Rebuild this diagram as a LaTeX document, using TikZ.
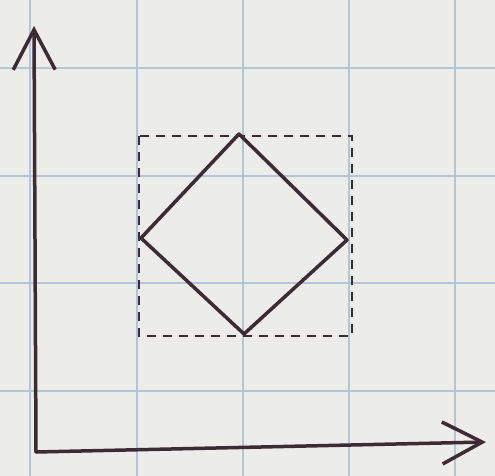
\documentclass[tikz,border=0pt]{standalone}
\usetikzlibrary{arrows.meta}
\definecolor{paper}{RGB}{236,236,232}
\definecolor{gridblue}{RGB}{178,198,218}
\definecolor{ink}{RGB}{62,42,55}
\begin{document}
\begin{tikzpicture}[x=1pt,y=-1pt,
  inkline/.style={draw=ink,line width=3.5pt,line cap=round,line join=round},
  dashline/.style={draw=ink,line width=1.8pt,dash pattern=on 9pt off 7pt},
  axisarrow/.style={inkline,-{Straight Barb[length=40pt,width=42pt,line width=3.5pt]}}]
\useasboundingbox (0,0) rectangle (495,476);
\fill[paper] (0,0) rectangle (495,476);
\foreach \gx in {30,137,243,349,455}
  \draw[gridblue,line width=2.5pt] (\gx,0) -- (\gx,476);
\foreach \gy in {68,176,283,391}
  \draw[gridblue,line width=2.5pt] (0,\gy) -- (495,\gy);
% axes
\coordinate (o) at (36,452);
\coordinate (ytip) at (34,26);
\coordinate (xtip) at (486,442);
\draw[axisarrow] (o) -- (ytip);
\draw[axisarrow] (o) -- (xtip);
% dashed square
\coordinate (sq1) at (139,136);
\coordinate (sq2) at (352,336);
\draw[dashline] (sq1) rectangle (sq2);
% diamond
\coordinate (dt) at (239,134);
\coordinate (dr) at (347,240);
\coordinate (db) at (244,334);
\coordinate (dl) at (141,238);
\draw[inkline] (dt) -- (dr) -- (db) -- (dl) -- cycle;
\end{tikzpicture}
\end{document}
